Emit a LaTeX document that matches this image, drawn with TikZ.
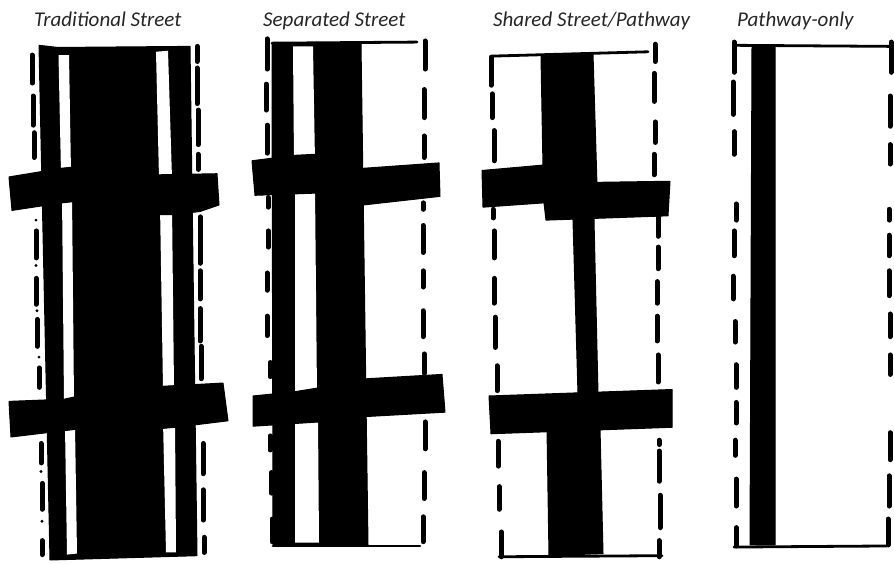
\documentclass[tikz,border=0pt]{standalone}
\usepackage{fontspec}
\setmainfont{Carlito}
\begin{document}
\begin{tikzpicture}[
    x=1pt, y=-1.079pt,
    title/.style={font=\fontsize{21}{24}\selectfont\itshape, anchor=base west, inner sep=0pt, text=black!85},
    ink/.style={fill=black, draw=black, line width=1pt, line join=round},
    slot/.style={fill=white, draw=none},
    curbdash/.style={line width=5pt, line cap=round},
    curbline/.style={line width=2.8pt, line cap=round}
]
\useasboundingbox (0,0) rectangle (894,522.7);

\node[title] (traditional) at (34,25) {Traditional Street};
\node[title] (separated) at (263,25) {Separated Street};
\node[title] (shared) at (493,25) {Shared Street/Pathway};
\node[title] (pathway) at (737,25) {Pathway-only};

% Traditional Street
\foreach \x/\a/\b in {32/51/77, 33/89/116, 34/123/146, 36/214/239, 36/258/282, 37/296/321, 39/341/359, 41/411/429, 42/448/472, 42/501/514,
    197/43/57, 197/63/96, 198/102/134, 198/143/157, 200/201/244, 200/251/277, 200/286/316, 201/321/351, 203/411/439, 203/454/482, 204/498/512}
    \draw[curbdash] (\x,\a) -- (\x,\b);
\foreach \x/\y in {36/204, 36/246, 37/288, 39/331, 41/437, 42/483}
    \fill (\x,\y) circle (1.6pt);
\fill[ink] (39,42) -- (58,44) -- (190,43) -- (197,515) -- (50,519) -- cycle;
\fill[slot] (58.5,51) -- (69,51) -- (71,160) -- (61,160) -- cycle;
\fill[slot] (62,180) -- (72,180) -- (74,372) -- (64,372) -- cycle;
\fill[slot] (65,395) -- (75,395) -- (77,513) -- (67,514) -- cycle;
\fill[slot] (156,48) -- (168,47) -- (172,165) -- (159,165) -- cycle;
\fill[slot] (160,190) -- (172,190) -- (174,360) -- (163,360) -- cycle;
\fill[slot] (163,390) -- (175,390) -- (176,512) -- (166,512) -- cycle;
\fill[ink] (9,164) -- (61,156) -- (71,155) -- (159,162) -- (217,161) -- (219,190) -- (200,196) -- (172,199) -- (160,199) -- (72,187) -- (62,188) -- (12,195) -- cycle;
\fill[ink] (9,372) -- (64,370) -- (74,368) -- (163,358) -- (223,355) -- (228,390) -- (175,396) -- (163,397) -- (75,398) -- (65,399) -- (11,405) -- cycle;

% Separated Street
\foreach \x/\a/\b in {267/36/64, 266/78/102, 267/116/142, 268/183/192, 268/214/229, 267/253/269, 267/293/311, 270/336/349, 270/404/417, 271/438/457, 272/481/502,
    425/38/64, 424/83/109, 424/126/146, 423/188/194, 423/209/234, 423/251/266, 423/288/312, 424/328/346, 425/391/416, 424/438/462, 423/479/502}
    \draw[curbdash] (\x,\a) -- (\x,\b);
\draw[curbline] (272,40) -- (417,39);
\draw[curbline] (273,506) -- (420,506);
\fill[ink] (272,40) -- (361,41) -- (368,505) -- (273,506) -- cycle;
\fill[slot] (293,43) -- (313,43) -- (315,150) -- (294,150) -- cycle;
\fill[slot] (295,175) -- (315,175) -- (317,365) -- (295,365) -- cycle;
\fill[slot] (295,388) -- (318,388) -- (319,503) -- (295,503) -- cycle;
\fill[ink] (252,149) -- (294,144) -- (315,143) -- (363,156) -- (439,151) -- (440,182) -- (363,190) -- (315,179) -- (255,181) -- cycle;
\fill[ink] (253,367) -- (295,363) -- (315,360) -- (367,351) -- (442,347) -- (445,382) -- (367,386) -- (320,391) -- (253,395) -- cycle;

% Shared Street/Pathway
\foreach \x/\a/\b in {491/53/79, 492/87/109, 494/121/149, 493/194/202, 494/214/239, 494/258/281, 495/294/322, 497/339/362, 498/409/432, 499/451/472, 501/493/516,
    655/41/57, 654/68/94, 655/113/132, 654/143/162, 658/201/219, 658/229/249, 657/261/281, 657/293/316, 658/329/354, 659/408/412, 659/418/446, 660/459/489, 659/501/516}
    \draw[curbdash] (\x,\a) -- (\x,\b);
\draw[curbline] (492,52) -- (648,48);
\draw[curbline] (499,516) -- (662,515);
\fill[ink] (541,52) -- (593,50) -- (597,172) -- (594,204) -- (598,365) -- (600,397) -- (603,513) -- (549,515) -- (547,397) -- (578,365) -- (573,204) -- (543,155) -- cycle;
\fill[ink] (482,158) -- (543,153) -- (596,169) -- (670,168) -- (668,200) -- (546,204) -- (544,188) -- (483,192) -- cycle;
\fill[ink] (489,367) -- (672,361) -- (672,396) -- (491,402) -- cycle;

% Pathway-only
\foreach \x/\a/\b in {734/39/67, 733/76/106, 734/122/143, 736/189/204, 734/214/237, 733/256/277, 735/298/317, 736/338/359, 736/373/392, 735/408/422, 736/444/469, 736/489/506,
    891/39/67, 890/89/117, 890/134/152, 889/194/204, 889/218/237, 889/251/274, 890/291/312, 890/329/347, 890/401/426, 889/441/469, 888/481/505}
    \draw[curbdash] (\x,\a) -- (\x,\b);
\draw[curbline] (735,42) -- (893,43);
\draw[curbline] (734,507) -- (887,506);
\fill[ink] (752,43) -- (775,43) -- (775,505) -- (750,505) -- cycle;
\end{tikzpicture}
\end{document}
